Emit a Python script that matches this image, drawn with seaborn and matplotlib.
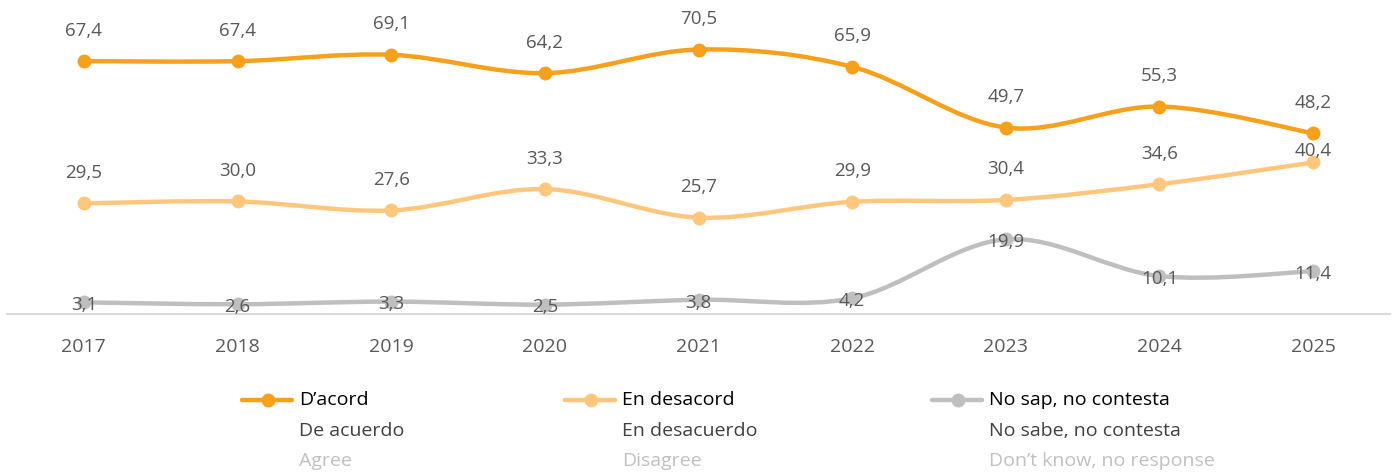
import numpy as np
import pandas as pd
import matplotlib
matplotlib.use("Agg")
import matplotlib.pyplot as plt
import seaborn as sns
from matplotlib.path import Path
from matplotlib.patches import PathPatch
from matplotlib.lines import Line2D

sns.set_theme(style="white")
plt.rcParams["font.family"] = ["Open Sans", "DejaVu Sans"]

years = ["2017", "2018", "2019", "2020", "2021", "2022", "2023", "2024", "2025"]
acord = [67.4, 67.4, 69.1, 64.2, 70.5, 65.9, 49.7, 55.3, 48.2]
desacord = [29.5, 30.0, 27.6, 33.3, 25.7, 29.9, 30.4, 34.6, 40.4]
nsnc = [3.1, 2.6, 3.3, 2.5, 3.8, 4.2, 19.9, 10.1, 11.4]

series_ca = ["D\u2019acord", "En desacord", "No sap, no contesta"]
series_es = ["De acuerdo", "En desacuerdo", "No sabe, no contesta"]
series_en = ["Agree", "Disagree", "Don\u2019t know, no response"]
colors = ["#F7A01C", "#FFC77D", "#BFBFBF"]

df = pd.DataFrame({"year": years * 3,
                   "value": acord + desacord + nsnc,
                   "serie": sum([[s] * len(years) for s in series_ca], [])})

fig = plt.figure(figsize=(13.92, 4.75), dpi=100)
ax = fig.add_axes([7 / 1392, 161 / 475, 1383 / 1392, 314 / 475])


def smooth_path(xs, ys):
    # bezier curve through the points (excel style smoothing)
    pts = np.column_stack([xs, ys]).astype(float)
    n = len(pts)
    verts = [pts[0]]
    codes = [Path.MOVETO]
    for i in range(n - 1):
        p0 = pts[max(i - 1, 0)]
        p1 = pts[i]
        p2 = pts[i + 1]
        p3 = pts[min(i + 2, n - 1)]
        c1 = p1 + (p2 - p0) / 6
        c2 = p2 - (p3 - p1) / 6
        verts += [c1, c2, p2]
        codes += [Path.CURVE4] * 3
    return Path(verts, codes)


xs = np.arange(len(years))
for vals, col in zip([acord, desacord, nsnc], colors):
    ax.add_patch(PathPatch(smooth_path(xs, vals), facecolor="none",
                           edgecolor=col, lw=3.2, capstyle="round", zorder=2))

sns.lineplot(data=df, x="year", y="value", hue="serie", palette=colors,
             marker="o", markersize=10, markeredgewidth=0, linestyle="",
             legend=False, ax=ax, zorder=3)

lab_color = "#595959"
for i, v in enumerate(acord):
    ax.annotate(f"{v:.1f}".replace(".", ","), (i, v), xytext=(0, 22),
                textcoords="offset points", ha="center", va="center",
                fontsize=13.5, color=lab_color, zorder=4)
for i, v in enumerate(desacord):
    off = 8 if i == len(desacord) - 1 else 22
    ax.annotate(f"{v:.1f}".replace(".", ","), (i, v), xytext=(0, off),
                textcoords="offset points", ha="center", va="center",
                fontsize=13.5, color=lab_color, zorder=4)
for i, v in enumerate(nsnc):
    ax.annotate(f"{v:.1f}".replace(".", ","), (i, v), xytext=(0, -2),
                textcoords="offset points", ha="center", va="center",
                fontsize=13.5, color=lab_color, zorder=4)

ax.set_xlim(-0.5, len(years) - 0.5)
ax.set_ylim(0, 83.7)
ax.set_xlabel("")
ax.set_ylabel("")
ax.set_yticks([])
ax.tick_params(axis="x", length=0, pad=17, labelsize=14, labelcolor=lab_color)
for s in ["top", "left", "right"]:
    ax.spines[s].set_visible(False)
ax.spines["bottom"].set_color("#D9D9D9")
ax.spines["bottom"].set_linewidth(1.5)
ax.spines["bottom"].set_zorder(1)

# legend drawn by hand
leg_x = [242, 565, 932]
for lx, col, ca, es, en in zip(leg_x, colors, series_ca, series_es, series_en):
    fig.add_artist(Line2D([lx / 1392, (lx + 50) / 1392], [1 - 400 / 475] * 2,
                          color=col, lw=3.2, solid_capstyle="round",
                          transform=fig.transFigure))
    fig.add_artist(Line2D([(lx + 26) / 1392], [1 - 400 / 475], color=col,
                          marker="o", markersize=10, markeredgewidth=0,
                          transform=fig.transFigure))
    tx = (lx + 57) / 1392
    fig.text(tx, 1 - 400 / 475, ca, fontsize=14, color="#000000", va="center")
    fig.text(tx, 1 - 431 / 475, es, fontsize=14, color="#404040", va="center")
    fig.text(tx, 1 - 461 / 475, en, fontsize=14, color="#C0C0C0", va="center")

fig.savefig("out.png", dpi=100)
